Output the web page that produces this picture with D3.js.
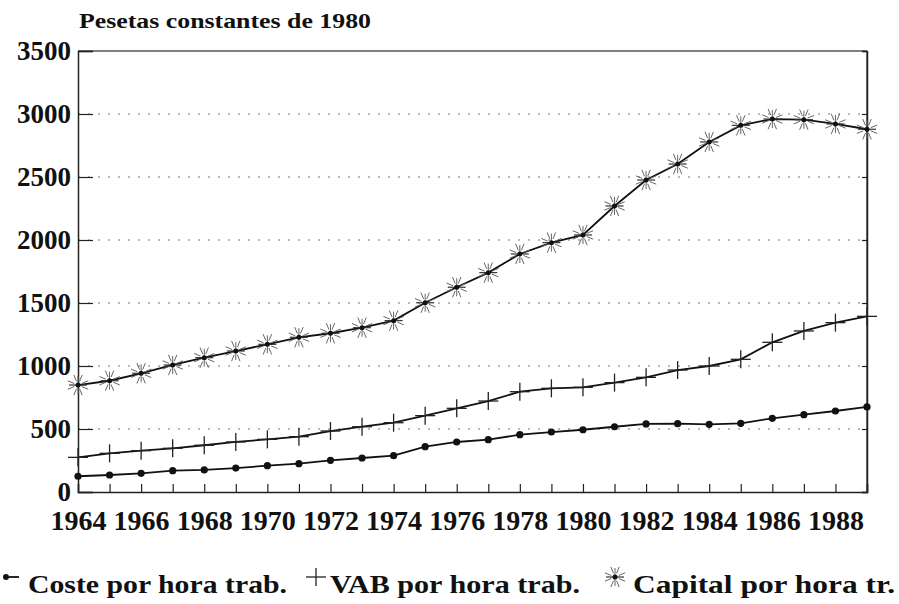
<!DOCTYPE html>
<html lang="es">
<head>
<meta charset="UTF-8">
<title>Pesetas constantes de 1980</title>
<script src="https://d3js.org/d3.v7.min.js"></script>
<style>
  body { margin: 0; background: #fff; }
  svg { display: block; }
  .lbl { font-family: "Liberation Serif", "Times New Roman", serif; font-weight: bold; fill: #111; }
  .grid line { stroke: #777; stroke-width: 1.2; stroke-dasharray: 2 8; }
</style>
</head>
<body>
<div id="chart"></div>
<script>
// data
const years = [1964, 1965, 1966, 1967, 1968, 1969, 1970, 1971, 1972, 1973, 1974, 1975, 1976,
               1977, 1978, 1979, 1980, 1981, 1982, 1983, 1984, 1985, 1986, 1987, 1988, 1989];
const coste = [125, 135, 148, 169, 175, 190, 209, 225, 251, 270, 288, 360, 397,
               415, 455, 476, 494, 518, 540, 542, 537, 545, 585, 614, 643, 675];
const vab = [275, 307, 328, 347, 371, 397, 418, 439, 484, 518, 550, 606, 664,
             722, 796, 823, 831, 868, 910, 968, 1000, 1053, 1188, 1278, 1344, 1394];
const capital = [849, 883, 942, 1008, 1066, 1119, 1172, 1228, 1260, 1304, 1360, 1502, 1625,
                 1741, 1889, 1979, 2040, 2270, 2476, 2603, 2778, 2910, 2960, 2955, 2921, 2879];
const yTicks = [0, 500, 1000, 1500, 2000, 2500, 3000, 3500];
const xLabels = [1964, 1966, 1968, 1970, 1972, 1974, 1976, 1978, 1980, 1982, 1984, 1986, 1988];
const seriesNames = ["Coste por hora trab.", "VAB por hora trab.", "Capital por hora tr."];

const W = 899, H = 604;
const svg = d3.select("#chart").append("svg").attr("width", W).attr("height", H);

const x = d3.scaleLinear().domain([1964, 1989]).range([78, 867]);
const y = d3.scaleLinear().domain([0, 3500]).range([492, 51]);

// dotted grid
svg.append("g").attr("class", "grid")
  .selectAll("line").data(yTicks.filter(d => d > 0 && d < 3500)).join("line")
  .attr("x1", x(1964)).attr("x2", x(1989))
  .attr("y1", d => y(d)).attr("y2", d => y(d));

// frame
svg.append("line").attr("x1", x(1964)).attr("x2", x(1989)).attr("y1", y(3500)).attr("y2", y(3500))
  .attr("stroke", "#555").attr("stroke-width", 1.3);
svg.append("line").attr("x1", x(1989)).attr("x2", x(1989)).attr("y1", y(3500)).attr("y2", y(0))
  .attr("stroke", "#333").attr("stroke-width", 1.3);

// axes
const yAxis = svg.append("g").attr("transform", `translate(${x(1964)},0)`)
  .call(d3.axisLeft(y).tickValues(yTicks).tickSize(-15).tickPadding(26).tickFormat(d3.format("d")));
const yAxisR = svg.append("g").attr("transform", `translate(${x(1989)},0)`)
  .call(d3.axisRight(y).tickValues(yTicks).tickSize(-5).tickFormat(""));
const xAxis = svg.append("g").attr("transform", `translate(0,${y(0)})`)
  .call(d3.axisBottom(x).tickValues(years).tickSize(-8).tickPadding(18)
    .tickFormat(d => xLabels.includes(d) ? String(d) : ""));

[yAxis, yAxisR, xAxis].forEach(g => {
  g.selectAll(".domain").attr("stroke", "#222").attr("stroke-width", 1.5);
  g.selectAll(".tick line").attr("stroke", "#222").attr("stroke-width", 1.2);
});
yAxis.selectAll(".tick text").attr("class", "lbl").style("font-size", "27px")
  .attr("x", -7).attr("dy", "0.3em");
xAxis.selectAll(".tick text").attr("class", "lbl").style("font-size", "28px")
  .attr("dy", "0.71em");

// title
svg.append("text").attr("class", "lbl").attr("x", 79).attr("y", 28)
  .style("font-size", "20px").attr("textLength", 292).attr("lengthAdjust", "spacingAndGlyphs")
  .text("Pesetas constantes de 1980");

const line = d3.line().x((d, i) => x(years[i])).y(d => y(d));

function drawLine(vals) {
  svg.append("path").datum(vals).attr("d", line)
    .attr("fill", "none").attr("stroke", "#111").attr("stroke-width", 1.8);
}

function dotMark(g, r) {
  g.append("circle").attr("r", r).attr("fill", "#111");
}
function plusMark(g) {
  g.append("line").attr("x1", -10).attr("x2", 10).attr("stroke", "#222").attr("stroke-width", 1.3);
  g.append("line").attr("y1", -9).attr("y2", 9).attr("stroke", "#222").attr("stroke-width", 1.3);
}
function starMark(g) {
  d3.range(8).forEach(k => {
    const a = k * Math.PI / 4 + Math.PI / 8;
    g.append("line").attr("x1", Math.cos(a) * 4).attr("y1", Math.sin(a) * 4)
      .attr("x2", Math.cos(a) * 11).attr("y2", Math.sin(a) * 11)
      .attr("stroke", "#666").attr("stroke-width", 1);
  });
  g.append("line").attr("x1", -9).attr("x2", 9).attr("stroke", "#333").attr("stroke-width", 1.2);
  g.append("line").attr("y1", -9).attr("y2", 9).attr("stroke", "#666").attr("stroke-width", 1);
  g.append("circle").attr("r", 2.5).attr("fill", "#111");
}

function drawMarks(vals, mark) {
  svg.append("g").selectAll("g").data(vals).join("g")
    .attr("transform", (d, i) => `translate(${x(years[i])},${y(d)})`)
    .each(function () { mark(d3.select(this)); });
}

drawLine(capital);
drawMarks(capital, starMark);
drawLine(vab);
drawMarks(vab, plusMark);
drawLine(coste);
drawMarks(coste, g => dotMark(g, 3.6));

// legend
const legendItems = [
  { name: seriesNames[0], mx: 6, tx: 28, tw: 259, mark: g => {
      dotMark(g, 3);
      g.append("line").attr("x1", 3).attr("x2", 13).attr("stroke", "#111").attr("stroke-width", 1.8);
    } },
  { name: seriesNames[1], mx: 316, tx: 330, tw: 250, mark: plusMark },
  { name: seriesNames[2], mx: 615, tx: 633, tw: 262, mark: starMark }
];
const lg = svg.append("g").attr("transform", "translate(0,584)");
legendItems.forEach(d => {
  const g = lg.append("g").attr("transform", `translate(${d.mx},-7)`);
  d.mark(g);
  lg.append("text").attr("class", "lbl").attr("x", d.tx).attr("y", 9)
    .style("font-size", "26px").attr("textLength", d.tw).attr("lengthAdjust", "spacingAndGlyphs")
    .text(d.name);
});
</script>
</body>
</html>
